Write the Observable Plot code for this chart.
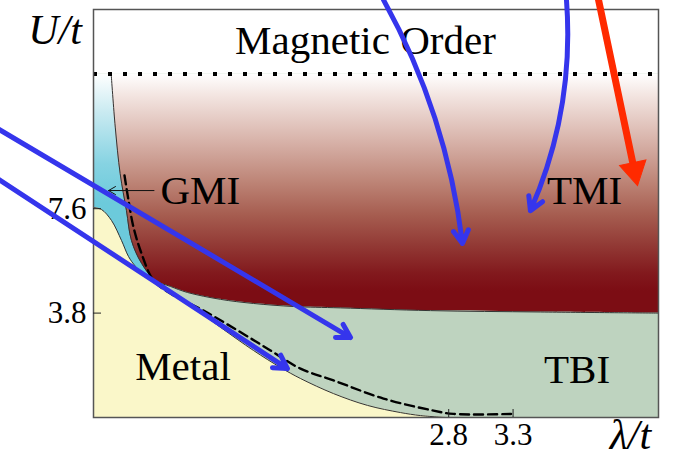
<!DOCTYPE html>
<html>
<head>
<meta charset="utf-8">
<script src="https://cdn.jsdelivr.net/npm/d3@7"></script>
<script src="https://cdn.jsdelivr.net/npm/@observablehq/plot@0.6"></script>
<style>
  body { margin: 0; background: white; }
  #chart { width: 675px; height: 457px; }
</style>
</head>
<body>
<div id="chart"></div>
<script>
// ---- data (lambda/t , U/t) ----
const xDomain = [0.04, 4.43];
const yDomain = [0, 14.85];
const magneticU = 12.5;
const tmiDarkU = 4.6;

const xTicks = [2.8, 3.3];
const yTicks = [3.8, 7.6];

// GMI / TMI boundary
const gmiTmiX = [0.178, 0.209, 0.247, 0.296, 0.335, 0.413, 0.519];
const gmiTmiU = [12.46, 10.57, 8.88, 7.53, 6.44, 5.61, 4.99];
// TMI / TBI boundary
const tmiBottomX = [0.638, 0.770, 1.027, 1.283, 1.594, 1.959, 2.658, 3.513, 4.43];
const tmiBottomU = [4.77, 4.55, 4.30, 4.15, 4.04, 3.99, 3.89, 3.84, 3.80];
// GMI / Metal boundary
const gmiMetalX = [0.04, 0.102, 0.180, 0.258, 0.312, 0.366, 0.444, 0.537];
const gmiMetalU = [7.64, 7.57, 7.17, 6.44, 5.86, 5.50, 5.13, 4.88];
// Metal / TBI boundary
const metalTbiX = [0.770, 1.027, 1.283, 1.493, 1.648, 1.905, 2.169, 2.425, 2.581, 2.775];
const metalTbiU = [4.15, 3.28, 2.44, 1.82, 1.42, 0.87, 0.44, 0.18, 0.07, 0];
// dashed curve
const dashedX = [0.281, 0.312, 0.351, 0.413, 0.506, 0.638, 0.895, 1.159, 1.415, 1.648, 1.905, 2.293, 2.682, 2.837, 3.30];
const dashedU = [8.81, 7.90, 6.92, 5.97, 4.99, 4.51, 3.89, 3.17, 2.44, 1.78, 1.35, 0.69, 0.25, 0.13, 0.13];

// region labels (centred)
const labelText = ["Magnetic Order", "TMI", "Metal", "TBI"];
const labelX = [2.153, 3.855, 0.735, 3.797];
const labelU = [13.72, 8.26, 1.86, 1.73];
// GMI label (left-aligned, with pointer)
const gmiLabel = [{t: "GMI", x: 0.56, y: 8.24}];
const gmiPointer = [{x1: 0.51, y1: 8.26, x2: 0.157, y2: 8.26}];

// axis titles
const axisTitleText = ["U/t", "λ/t"];
const axisTitleX = [-0.259, 4.212];
const axisTitleU = [14.10, -0.66];

// presentation arrows
const curvedArrow1 = [{x1: 2.293, y1: 15.2, x2: 2.907, y2: 6.33}];
const curvedArrow2 = [{x1: 3.715, y1: 15.2, x2: 3.435, y2: 7.53}];
const straightBlue = [
  {x1: -0.721, y1: 10.56, x2: 2.037, y2: 2.91},
  {x1: -0.721, y1: 8.74, x2: 1.547, y2: 1.78}
];
const redArrow = [{x1: 3.964, y1: 15.2, x2: 4.267, y2: 8.45}];

// ---- tables ----
const zip = (X, Y) => X.map((x, i) => ({x, y: Y[i]}));
const tmiEdge = zip(gmiTmiX.concat(tmiBottomX), gmiTmiU.concat(tmiBottomU));
const metalEdge = zip(gmiMetalX.concat(metalTbiX), gmiMetalU.concat(metalTbiU));
const gmiEdge = zip(gmiMetalX, gmiMetalU);
const dashed = zip(dashedX, dashedU);
const labels = labelText.map((t, i) => ({t, x: labelX[i], y: labelU[i]}));
const titles = axisTitleText.map((t, i) => ({t, x: axisTitleX[i], y: axisTitleU[i]}));

const defsMark = (index, scales) => {
  const defs = d3.create("svg:defs");
  const yTop = scales.y(magneticU), yDark = scales.y(tmiDarkU);
  const g1 = defs.append("linearGradient").attr("id", "tmiGrad")
    .attr("gradientUnits", "userSpaceOnUse")
    .attr("x1", 0).attr("x2", 0).attr("y1", yTop).attr("y2", yDark);
  [[0, "#ffffff"], [0.1, "#f3e5e1"], [0.3, "#d9b5ac"], [0.5, "#bd8476"], [0.65, "#a65d50"],
   [0.8, "#913733"], [0.92, "#82191d"], [1, "#7c0d14"]]
    .forEach(([o, c]) => g1.append("stop").attr("offset", o).attr("stop-color", c));
  const g2 = defs.append("linearGradient").attr("id", "gmiGrad")
    .attr("gradientUnits", "userSpaceOnUse")
    .attr("x1", 0).attr("x2", 0).attr("y1", yTop).attr("y2", scales.y(7.8));
  [[0, "#ffffff"], [0.3, "#c9eaf1"], [0.7, "#86d3e2"], [1, "#6ccadb"]]
    .forEach(([o, c]) => g2.append("stop").attr("offset", o).attr("stop-color", c));
  const f = defs.append("filter").attr("id", "shadow")
    .attr("x", "-20%").attr("y", "-20%").attr("width", "140%").attr("height", "140%");
  f.append("feDropShadow").attr("dx", 2).attr("dy", 4).attr("stdDeviation", 3)
    .attr("flood-color", "#445566").attr("flood-opacity", 0.55);
  return defs.node();
};

const blue = "#3535ec";
const red = "#ff2a00";
const serif = "Liberation Serif";

const chart = Plot.plot({
  width: 675,
  height: 457,
  marginLeft: 93,
  marginRight: 17,
  marginTop: 9,
  marginBottom: 40,
  x: {domain: xDomain, axis: null},
  y: {domain: yDomain, axis: null},
  style: {fontFamily: serif, background: "white", overflow: "hidden"},
  marks: [
    defsMark,
    // TBI background
    Plot.rect([0], {x1: xDomain[0], x2: xDomain[1], y1: yDomain[0], y2: magneticU, fill: "#bed3bf"}),
    // GMI
    Plot.areaY(gmiEdge, {x: "x", y1: "y", y2: magneticU, fill: "url(#gmiGrad)", curve: "catmull-rom"}),
    // TMI
    Plot.areaY(tmiEdge, {x: "x", y1: "y", y2: magneticU, fill: "url(#tmiGrad)", curve: "catmull-rom"}),
    // Metal
    Plot.areaY(metalEdge, {x: "x", y1: 0, y2: "y", fill: "#faf7c9", curve: "catmull-rom"}),
    // boundaries
    Plot.line(tmiEdge, {x: "x", y: "y", stroke: "#333", strokeWidth: 1, curve: "catmull-rom"}),
    Plot.line(metalEdge, {x: "x", y: "y", stroke: "#333", strokeWidth: 1, curve: "catmull-rom"}),
    Plot.line(dashed, {x: "x", y: "y", stroke: "#000", strokeWidth: 2.4, strokeDasharray: "9,5", curve: "catmull-rom"}),
    // magnetic order line
    Plot.ruleY([magneticU], {stroke: "#000", strokeWidth: 4, strokeDasharray: "4,11"}),
    Plot.frame({stroke: "#555", strokeWidth: 1.5}),
    // axes
    Plot.axisY(yTicks, {ticks: yTicks, tickSize: -8, tickPadding: 15, fontSize: 31, stroke: "#222", fill: "#000", tickFormat: d => d.toFixed(1)}),
    Plot.axisX(xTicks, {ticks: xTicks, tickSize: -8, tickPadding: 13, fontSize: 31, stroke: "#222", fill: "#000", tickFormat: d => d.toFixed(1)}),
    // labels
    Plot.text(labels, {x: "x", y: "y", text: "t", fontSize: 41, fill: "#000"}),
    Plot.text(gmiLabel, {x: "x", y: "y", text: "t", textAnchor: "start", fontSize: 41, fill: "#000"}),
    Plot.text(titles, {x: "x", y: "y", text: "t", fontSize: 42, fontStyle: "italic", fill: "#000"}),
    Plot.arrow(gmiPointer, {x1: "x1", y1: "y1", x2: "x2", y2: "y2", stroke: "#111", strokeWidth: 1, headLength: 12}),
    // presentation arrows
    Plot.arrow(curvedArrow1, {x1: "x1", y1: "y1", x2: "x2", y2: "y2", bend: 11, stroke: blue, strokeWidth: 5, headLength: 4.5, ariaLabel: "annot"}),
    Plot.arrow(curvedArrow2, {x1: "x1", y1: "y1", x2: "x2", y2: "y2", bend: 14, stroke: blue, strokeWidth: 5, headLength: 4.5, ariaLabel: "annot"}),
    Plot.arrow(straightBlue, {x1: "x1", y1: "y1", x2: "x2", y2: "y2", stroke: blue, strokeWidth: 5, headLength: 4.5, ariaLabel: "annot"}),
    Plot.arrow(redArrow, {x1: "x1", y1: "y1", x2: "x2", y2: "y2", stroke: red, strokeWidth: 7, headLength: 0, insetEnd: 18, ariaLabel: "annot"}),
    Plot.dot(redArrow, {x: "x2", y: "y2", symbol: "triangle", rotate: 168, r: 10, dx: -3.2, dy: -15, fill: red, stroke: red, strokeWidth: 1, ariaLabel: "annot"})
  ]
});

chart.querySelectorAll('g[aria-label="annot"]').forEach(g => g.setAttribute("filter", "url(#shadow)"));
document.getElementById("chart").appendChild(chart);
</script>
</body>
</html>
